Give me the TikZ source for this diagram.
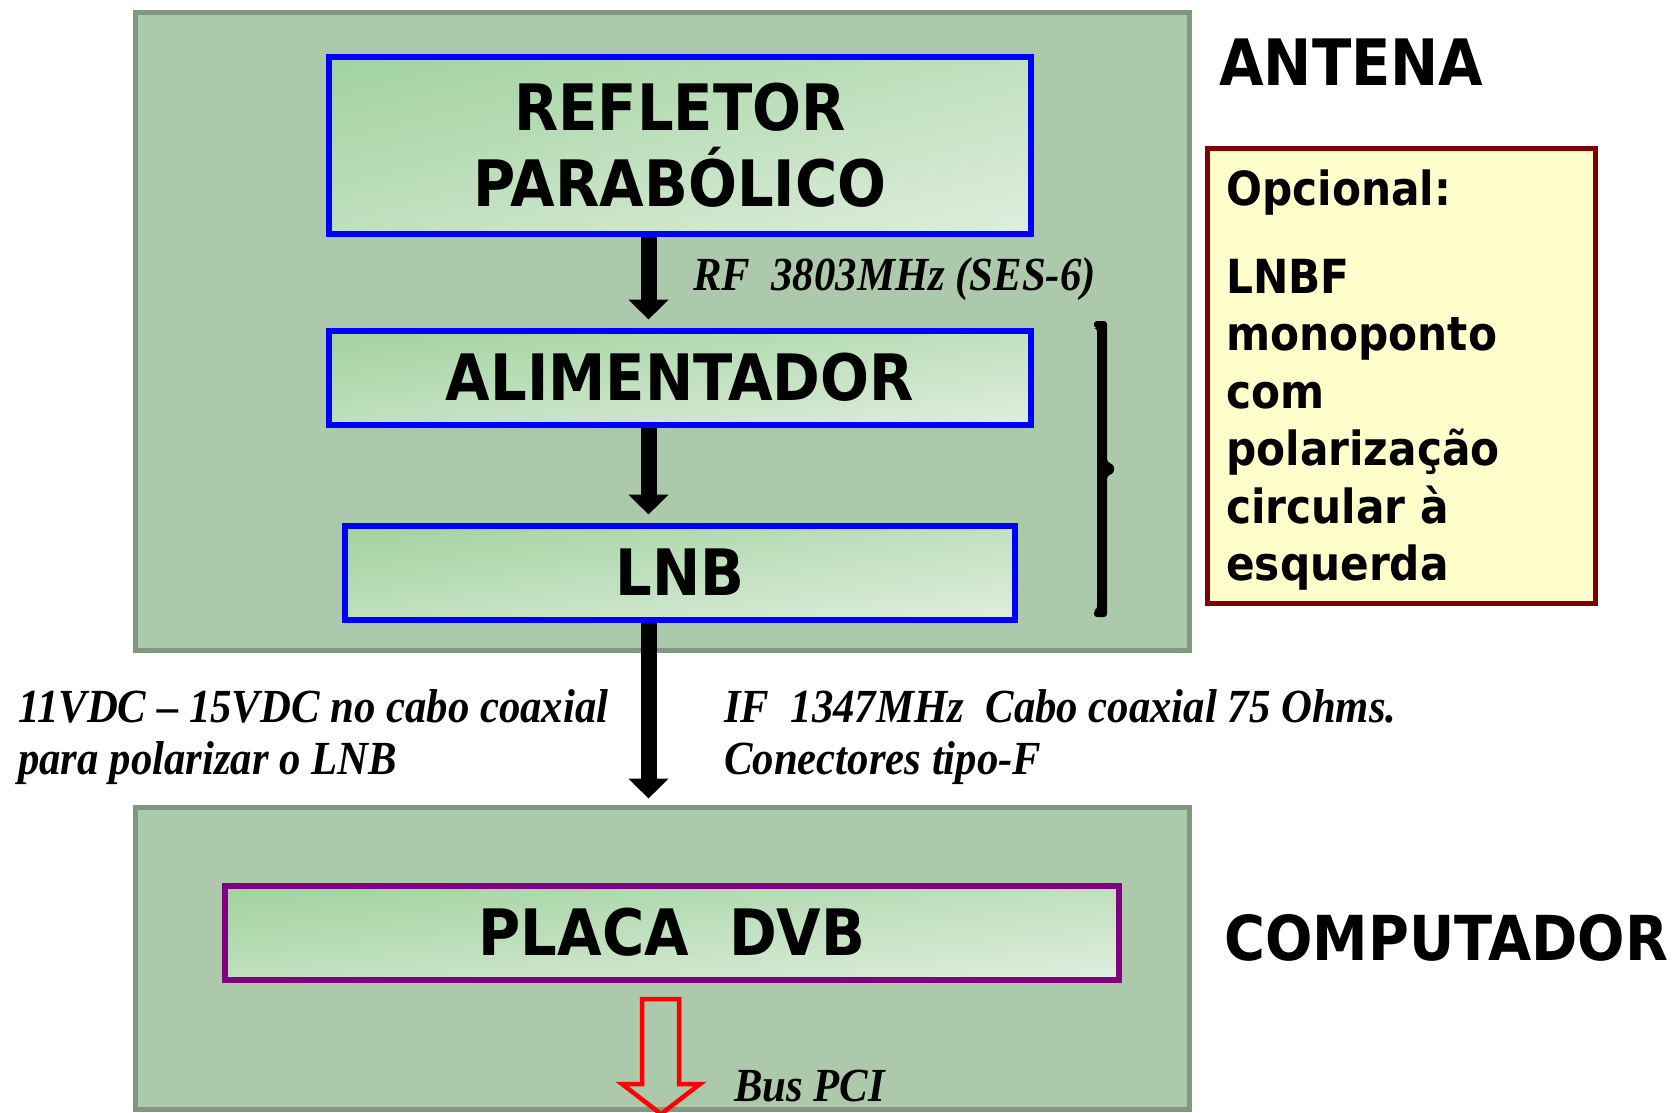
\documentclass[tikz,border=0pt]{standalone}
\usepackage{fontspec}
\usetikzlibrary{arrows.meta}
\newfontfamily\hdfont[FakeStretch=0.9]{DejaVu Sans}
\newfontfamily\lblfont[FakeStretch=0.9]{Liberation Serif}
\definecolor{panel}{HTML}{ADC9AB}
\definecolor{panelline}{HTML}{80987E}
\definecolor{optfill}{HTML}{FFFFCC}
\definecolor{optline}{HTML}{800000}
\definecolor{purp}{HTML}{800080}
\pgfdeclarefunctionalshading{diagsh}{\pgfpoint{0bp}{0bp}}{\pgfpoint{100bp}{100bp}}{}{
  exch 25 sub exch 75 exch sub add 100 div
  dup dup
  0.251 mul 0.620 add
  3 1 roll
  0.109 mul 0.824 add
  exch
  0.251 mul 0.627 add
  3 1 roll
  exch
}
\begin{document}
\begin{tikzpicture}[x=1pt,y=-1pt,
  panelbox/.style={draw=panelline, fill=panel, line width=5pt, inner sep=0pt},
  blockbox/.style={draw=blue, line width=6pt, shade, shading=diagsh,
     inner sep=0pt, align=center, font=\hdfont\bfseries\fontsize{64}{76}\selectfont},
  optbox/.style={draw=optline, fill=optfill, line width=5pt, inner sep=0pt},
  arr/.style={line width=16pt, -{Triangle[width=39pt,length=20pt]}},
  lbl/.style={inner sep=0pt, anchor=base west, align=left, font=\lblfont\bfseries\itshape\fontsize{47.5}{52}\selectfont},
  hd/.style={inner sep=0pt, anchor=base west, align=left, font=\hdfont\bfseries\fontsize{64}{76}\selectfont},
  opttext/.style={inner sep=0pt, anchor=base west, align=left, font=\hdfont\bfseries\fontsize{47}{57.5}\selectfont}]
\useasboundingbox[fill=white] (0,0) rectangle (1676,1113);

% panels
\node[panelbox, minimum width=1054pt, minimum height=637pt] (antena) at (662,331.5) {};
\node[panelbox, minimum width=1054pt, minimum height=302pt] (comp) at (662,958) {};

% blocks
\node[blockbox, minimum width=702pt, minimum height=177pt] (refl) at (680,145.5) {REFLETOR\\PARABÓLICO};
\node[blockbox, minimum width=702pt, minimum height=94pt] (alim) at (680,377.5) {ALIMENTADOR};
\node[blockbox, minimum width=670pt, minimum height=94pt] (lnb) at (680,572.5) {LNB};
\node[blockbox, draw=purp, minimum width=894pt, minimum height=94pt] (dvb) at (672,932.5) {PLACA\ \ DVB};

% connectors
\coordinate (ax) at (648.5,0);
\draw[arr, shorten >=8pt] (refl.south -| ax) -- (alim.north -| ax);
\draw[arr, shorten >=8pt] (alim.south -| ax) -- (lnb.north -| ax);
\draw[arr, shorten >=6pt] (lnb.south -| ax) -- (comp.north -| ax);

% labels
\node[lbl] (rf) at (693,290) {RF\ \ 3803MHz (SES-6)};
\node[lbl] (vdc) at (18,774) {11VDC – 15VDC no cabo coaxial\\para polarizar o LNB};
\node[lbl] (ifl) at (724,774) {IF\ \ 1347MHz\ \ Cabo coaxial 75 Ohms.\\Conectores tipo-F};
\node[lbl] (bus) at (734,1101) {Bus PCI};

% titles
\node[hd] (tant) at (1219,86) {ANTENA};
\node[hd, font=\hdfont\bfseries\fontsize{62}{70}\selectfont] (tcomp) at (1224,960) {COMPUTADOR};

% optional box
\node[optbox, minimum width=388pt, minimum height=454pt] (opt) at (1401,376) {};
\node[opttext] (optt) at (1226,580.5) {Opcional:\\[30.5pt]LNBF\\monoponto\\com\\polarização\\circular à\\esquerda};

% bracket
\fill[rounded corners=3pt] (1094,321) -- (1107,321) -- (1107,462) -- (1114,465) -- (1114,473)
   -- (1107,476) -- (1107,617) -- (1094,617) -- (1094,610) -- (1097,610) -- (1097,328) -- (1094,328) -- cycle;

% red hollow arrow
\coordinate (pcitip) at (661,1114);
\draw[red, line width=4.5pt, line join=miter] (642,999) -- (679,999) -- (679,1084) -- (700,1084) -- (pcitip) -- (622,1084) -- (642,1084) -- cycle;
\end{tikzpicture}
\end{document}
